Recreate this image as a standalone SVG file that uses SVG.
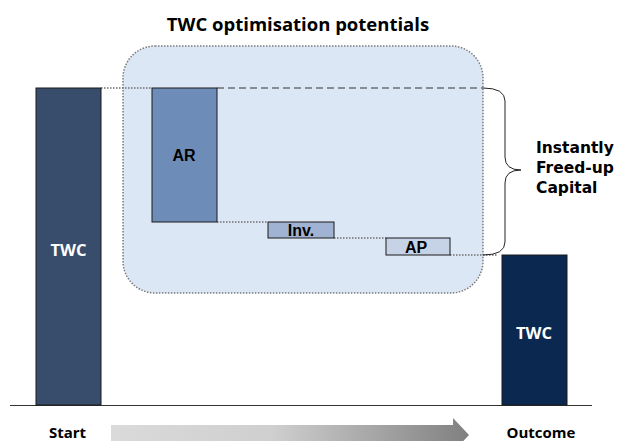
<svg xmlns="http://www.w3.org/2000/svg" width="620" height="441" viewBox="0 0 620 441">
<defs>
<style>
.lbl{font-family:"Open Sans","Lato","DejaVu Sans",sans-serif;font-weight:bold;}
.side{font-family:"DejaVu Sans","Open Sans",sans-serif;font-weight:bold;font-size:15.5px;fill:#000;}
.bar{stroke:#1a1a1a;stroke-width:1;}
.dot{stroke:#6e6e6e;stroke-width:1.5;stroke-dasharray:1.5 1.5;fill:none;}
.ar{font-family:"Liberation Sans",Arial,sans-serif;font-weight:bold;font-size:16px;fill:#000;text-anchor:middle;}
.twc{font-size:16.5px;fill:#fff;text-anchor:middle;}
</style>
<linearGradient id="g" x1="0" y1="0" x2="1" y2="0">
<stop offset="0" stop-color="#dadada"/>
<stop offset="0.45" stop-color="#cfcfcf"/>
<stop offset="1" stop-color="#808080"/>
</linearGradient>
</defs>
<rect width="620" height="441" fill="#fff"/>
<text class="lbl" x="298" y="31" font-size="18.5" text-anchor="middle" fill="#000">TWC optimisation potentials</text>
<g id="potentials-box">
<rect x="123" y="46" width="360" height="247" rx="32" ry="32" fill="#dce7f5" stroke="#7a7a7a" stroke-width="1.5" stroke-dasharray="1.5 1.5"/>
</g>
<g id="connectors">
<line class="dot" x1="101" y1="88" x2="152" y2="88"/>
<line x1="217" y1="88" x2="483" y2="88" stroke="#333" stroke-width="1" stroke-dasharray="7 4"/>
<line class="dot" x1="217" y1="222" x2="268" y2="222"/>
<line class="dot" x1="334" y1="238" x2="386" y2="238"/>
<line class="dot" x1="450" y1="255" x2="497" y2="255"/>
<path d="M483,88 Q505,88 505,101 L505,157 Q505,170 521,170 Q505,170 505,183 L505,242 Q505,255 483,255" fill="none" stroke="#222" stroke-width="1"/>
<line x1="10" y1="405.5" x2="592" y2="405.5" stroke="#333" stroke-width="1.2"/>
</g>
<g id="start-twc">
<rect class="bar" x="36" y="88" width="65" height="317" fill="#384c6c"/>
<text class="lbl twc" x="68.5" y="256">TWC</text>
</g>
<g id="ar">
<rect class="bar" x="152" y="88" width="65" height="134" fill="#6d8cb8"/>
<text class="ar" x="184" y="161">AR</text>
</g>
<g id="inv">
<rect class="bar" x="268" y="222" width="66" height="16" fill="#a0b3d3"/>
<text class="ar" x="301" y="236">Inv.</text>
</g>
<g id="ap">
<rect class="bar" x="386" y="238" width="64" height="17" fill="#c6d2e6"/>
<text class="ar" x="416" y="253">AP</text>
</g>
<g id="outcome-twc">
<rect class="bar" x="502" y="255" width="65" height="150" fill="#0b2850"/>
<text class="lbl twc" x="534" y="339">TWC</text>
</g>
<g id="freed-up-label">
<text class="side" x="536" y="153">Instantly</text>
<text class="side" x="536" y="173">Freed-up</text>
<text class="side" x="536" y="193">Capital</text>
</g>
<g id="timeline">
<text class="lbl" x="67.5" y="438" font-size="15" text-anchor="middle" fill="#000">Start</text>
<path d="M111,425 L453,425 L453,418 L469,435 L453,452 L453,445 L111,445 Z" fill="url(#g)"/>
<text class="lbl" x="541" y="438" font-size="15" text-anchor="middle" fill="#000">Outcome</text>
</g>
</svg>
